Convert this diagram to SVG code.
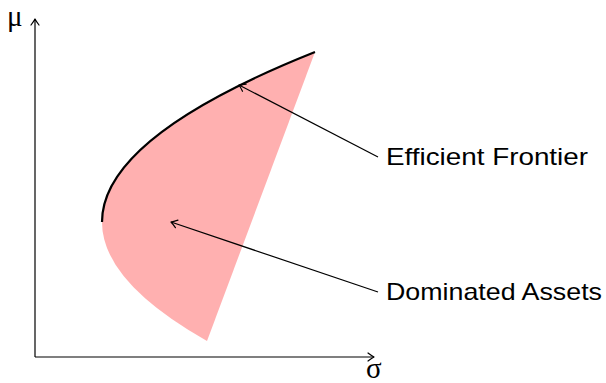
<svg xmlns="http://www.w3.org/2000/svg" width="606" height="383" viewBox="0 0 606 383">
<style>
.ax{stroke:#000;stroke-width:1.2;fill:none}
.lbl{font-family:"Liberation Sans","DejaVu Sans",sans-serif;font-size:24px;fill:#000}
.sym{font-family:"Liberation Serif","DejaVu Serif",serif;font-size:29px;fill:#000}
.head{stroke:#000;stroke-width:1.2;fill:none;stroke-linecap:round;stroke-linejoin:round}
</style>
<defs>
<marker id="arr" viewBox="-8 -5 10 10" refX="0" refY="0" markerWidth="10" markerHeight="10" markerUnits="userSpaceOnUse" orient="auto">
<path class="head" d="M-6,-4 Q-2,-1 0,0 Q-2,1 -6,4"/>
</marker>
</defs>
<g id="region">
<path d="M315,52 Q102,137 102,222 Q102,281.5 207,341 Z" fill="#ffb0b0"/>
</g>
<g id="frontier">
<path d="M102,222 Q102,137 315,52" fill="none" stroke="#000" stroke-width="2.2"/>
</g>
<g id="axes">
<line class="ax" x1="35" y1="357" x2="35" y2="19" marker-end="url(#arr)"/>
<line class="ax" x1="35" y1="357" x2="374" y2="357" marker-end="url(#arr)"/>
<text class="sym" x="7" y="26">μ</text>
<text class="sym" x="366" y="378">σ</text>
</g>
<g id="connectors">
<line class="ax" x1="378" y1="157" x2="239" y2="85" marker-end="url(#arr)"/>
<line class="ax" x1="378" y1="292" x2="171" y2="222" marker-end="url(#arr)"/>
</g>
<g id="label-efficient">
<text class="lbl" x="386" y="165" textLength="202" lengthAdjust="spacingAndGlyphs">Efficient Frontier</text>
</g>
<g id="label-dominated">
<text class="lbl" x="386" y="300" textLength="216" lengthAdjust="spacingAndGlyphs">Dominated Assets</text>
</g>
</svg>
